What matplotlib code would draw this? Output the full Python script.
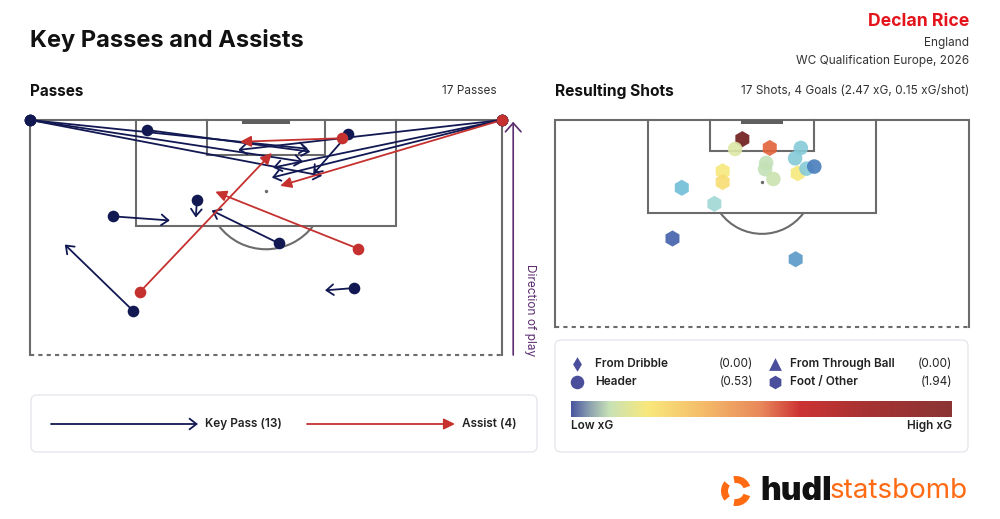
import matplotlib
matplotlib.use("Agg")
import matplotlib.pyplot as plt
from matplotlib.patches import FancyArrowPatch, FancyBboxPatch, Rectangle, Arc, Wedge
from matplotlib.colors import LinearSegmentedColormap, Normalize
import numpy as np

plt.rcParams['font.family'] = ['Inter', 'DejaVu Sans']

# ---------------- data ----------------
title = "Key Passes and Assists"
player = "Declan Rice"
team = "England"
competition = "WC Qualification Europe, 2026"

# StatsBomb coords: x = length (goal at 120), y = width (0..80)
pass_type = ["Key Pass"] * 13 + ["Assist"] * 4
pass_start_x = [120, 120, 120, 120, 120, 120, 118.3, 117.6, 106.4, 103.6, 99.0, 87.5, 91.4,
                116.9, 90.7, 120, 98.1]
pass_start_y = [0, 0, 0, 80, 80, 80, 19.8, 53.9, 28.3, 14.1, 42.2, 17.5, 54.9,
                52.9, 18.6, 80, 55.6]
pass_end_x = [115.1, 112.9, 110.5, 114.9, 111.9, 110.2, 114.6, 110.8, 103.4, 102.9, 104.6, 98.8, 91.0,
              116.3, 114.4, 108.8, 107.8]
pass_end_y = [47.1, 46.3, 49.5, 35.3, 41.2, 41.0, 47.5, 48.0, 28.1, 23.7, 30.8, 5.9, 50.0,
              35.6, 41.0, 42.4, 31.4]

shot_x = [116.3, 114.4, 114.6, 114.6, 112.6, 111.7, 110.5, 108.6, 110.1, 108.0, 109.7, 110.6, 111.0,
          106.9, 103.8, 97.1, 93.1]
shot_y = [36.2, 34.8, 41.5, 47.5, 46.4, 40.8, 40.6, 42.2, 32.4, 32.4, 46.9, 48.6, 50.1,
          24.5, 30.8, 22.7, 46.5]
shot_xg = [0.97, 0.11, 0.36, 0.05, 0.05, 0.08, 0.08, 0.09, 0.15, 0.17, 0.15, 0.05, 0.02,
           0.04, 0.06, 0.01, 0.03]
shot_body = ["Foot / Other", "Header", "Foot / Other", "Header", "Header", "Header", "Header", "Header",
             "Foot / Other", "Foot / Other", "Foot / Other", "Header", "Header",
             "Foot / Other", "Foot / Other", "Foot / Other", "Foot / Other"]
n_goals = 4
shot_categories = ["From Dribble", "From Through Ball", "Header", "Foot / Other"]

# ---------------- styles ----------------
NAVY = "#111852"
RED = "#C5312F"
LINE = "#6b6b6b"
PURPLE = "#5B2C6F"
MARK = "#4B4E9B"
TXT = "#222222"
SUB = "#333333"

cmap = LinearSegmentedColormap.from_list("xg", [
    (0.00, "#3D4B9C"), (0.03, "#4A82C0"), (0.057, "#72C2D8"), (0.071, "#86CBD8"),
    (0.086, "#A9DCD4"), (0.12, "#C8E2B0"), (0.157, "#DDE8A6"), (0.215, "#F9E97A"),
    (0.243, "#F8DC72"), (0.36, "#F3B45F"), (0.52, "#E2603A"), (0.62, "#CC3030"),
    (1.00, "#8A3030")])
cmap.set_over("#6E1A1A")
norm = Normalize(0, 0.7)

# legend colour bar gradient
cbar_cmap = LinearSegmentedColormap.from_list("xgbar", [
    (0.00, "#4A56A0"), (0.05, "#8FA5B0"), (0.10, "#C8E2B6"), (0.20, "#F9E87C"),
    (0.34, "#F5BE6A"), (0.50, "#E8875A"), (0.60, "#CD3434"), (0.77, "#A83232"),
    (1.00, "#8B3535")])

W, H = 1000, 519
fig = plt.figure(figsize=(W / 100, H / 100), dpi=100)
bg = fig.add_axes([0, 0, 1, 1])
bg.set_xlim(0, W)
bg.set_ylim(H, 0)
bg.axis('off')


def pax(x0, y0, x1, y1):
    return fig.add_axes([x0 / W, 1 - y1 / H, (x1 - x0) / W, (y1 - y0) / H])


def draw_pitch(ax, lw=1.5):
    ax.set_xlim(0, 80)
    ax.set_ylim(80, 120)
    ax.axis('off')
    kw = dict(color=LINE, lw=lw, zorder=1, clip_on=False, solid_joinstyle='miter')
    ax.plot([0, 0, 80, 80], [80, 120, 120, 80], **kw)
    ax.plot([0, 80], [80, 80], color=LINE, lw=lw, ls=(0, (2, 2)), zorder=1, clip_on=False)
    ax.plot([18, 18, 62, 62], [120, 102, 102, 120], **kw)
    ax.plot([30, 30, 50, 50], [120, 114, 114, 120], **kw)
    ax.add_patch(Rectangle((36, 119.3), 8, 0.7, color="#5f5f5f", lw=0, zorder=1))
    ax.add_patch(Arc((40, 108), 20, 20, theta1=216.87, theta2=323.13, color=LINE, lw=lw, zorder=1))
    ax.scatter([40], [108], s=6, color=LINE, zorder=1, lw=0)


# ---------------- header texts ----------------
bg.text(30, 40, title, fontsize=17, fontweight='bold', color="#111111", va='center', ha='left')
bg.text(969, 22, player, fontsize=12.7, fontweight='bold', color="#E3141B", va='center', ha='right')
bg.text(969, 43, team, fontsize=8.5, color=SUB, va='center', ha='right')
bg.text(969, 61, competition, fontsize=8.5, color=SUB, va='center', ha='right')

bg.text(30, 91, "Passes", fontsize=11, fontweight='bold', color="#111111", va='center', ha='left')
bg.text(497, 91, f"{len(pass_type)} Passes", fontsize=8.5, color=SUB, va='center', ha='right')
total_xg = sum(shot_xg)
bg.text(555, 91, "Resulting Shots", fontsize=11.2, fontweight='bold', color="#111111", va='center', ha='left')
bg.text(969, 91, f"{len(shot_xg)} Shots, {n_goals} Goals ({total_xg:.2f} xG, {total_xg / len(shot_xg):.2f} xG/shot)",
        fontsize=8.5, color=SUB, va='center', ha='right')

# ---------------- passes pitch ----------------
axp = pax(30, 120, 502, 355)
draw_pitch(axp, lw=1.5)

for t, sx, sy, ex, ey in zip(pass_type, pass_start_x, pass_start_y, pass_end_x, pass_end_y):
    if t == "Key Pass":
        style = "->,head_length=0.42,head_width=0.32"
        col = NAVY
        z = 3
    else:
        style = "-|>,head_length=0.55,head_width=0.27"
        col = RED
        z = 4
    axp.add_patch(FancyArrowPatch((sy, sx), (ey, ex), arrowstyle=style, mutation_scale=12,
                                  color=col, lw=1.3, shrinkA=0, shrinkB=0, zorder=z, clip_on=False))

kp_idx = [i for i, t in enumerate(pass_type) if t == "Key Pass"]
as_idx = [i for i, t in enumerate(pass_type) if t == "Assist"]
axp.scatter([pass_start_y[i] for i in kp_idx], [pass_start_x[i] for i in kp_idx], s=70, color=NAVY,
            lw=0, zorder=5, clip_on=False)
axp.scatter([pass_start_y[i] for i in as_idx], [pass_start_x[i] for i in as_idx], s=70, color=RED,
            lw=0, zorder=6, clip_on=False)

# direction of play
axp.add_patch(FancyArrowPatch((81.9, 80), (81.9, 119.7), arrowstyle="->,head_length=0.45,head_width=0.4",
                              mutation_scale=14, color=PURPLE, lw=1.2, shrinkA=0, shrinkB=0, clip_on=False))
axp.text(84.8, 87.6, "Direction of play", rotation=270, fontsize=8.5, color=PURPLE, ha='center', va='center',
         clip_on=False)

# ---------------- shots pitch ----------------
axs = pax(555, 120, 969, 327)
draw_pitch(axs, lw=1.5)
for body, mk, s in [("Foot / Other", "h", 135), ("Header", "o", 110)]:
    idx = [i for i, b in enumerate(shot_body) if b == body]
    axs.scatter([shot_y[i] for i in idx], [shot_x[i] for i in idx], c=[shot_xg[i] for i in idx],
                cmap=cmap, norm=norm, marker=mk, s=s, lw=0, alpha=0.9, zorder=3, clip_on=False)

# ---------------- legends ----------------
for (x0, y0, x1, y1) in [(31, 395, 537, 452), (555, 340, 968, 452)]:
    bg.add_patch(FancyBboxPatch((x0, y0), x1 - x0, y1 - y0, boxstyle="round,pad=0,rounding_size=6",
                                fc="white", ec="#E4E7EB", lw=1.0, zorder=0))

bg.add_patch(FancyArrowPatch((51, 424), (198, 424), arrowstyle="->,head_length=0.42,head_width=0.32",
                             mutation_scale=12, color=NAVY, lw=1.3, shrinkA=0, shrinkB=0))
bg.text(205, 424, f"Key Pass ({len(kp_idx)})", fontsize=8.5, fontweight='semibold', color=TXT, va='center')
bg.add_patch(FancyArrowPatch((307, 424), (455, 424), arrowstyle="-|>,head_length=0.55,head_width=0.27",
                             mutation_scale=12, color=RED, lw=1.3, shrinkA=0, shrinkB=0))
bg.text(462, 424, f"Assist ({len(as_idx)})", fontsize=8.5, fontweight='semibold', color=TXT, va='center')

cat_markers = {"From Dribble": ("d", 55), "From Through Ball": ("^", 85),
               "Header": ("o", 95), "Foot / Other": ("h", 95)}
cat_pos = {"From Dribble": (577, 364, 595, 753), "Header": (577, 382, 595, 753),
           "From Through Ball": (775, 364, 790, 952), "Foot / Other": (775, 382, 790, 952)}
for cat in shot_categories:
    mk, s = cat_markers[cat]
    mx, my, tx, vx = cat_pos[cat]
    val = sum(x for x, b in zip(shot_xg, shot_body) if b == cat)
    bg.scatter([mx], [my], marker=mk, s=s, color=MARK, lw=0)
    bg.text(tx, my, cat, fontsize=8.5, fontweight='semibold', color=TXT, va='center', ha='left')
    bg.text(vx, my, f"({val:.2f})", fontsize=8.5, color=TXT, va='center', ha='right')

grad = np.linspace(0, 1, 256).reshape(1, -1)
bg.imshow(grad, cmap=cbar_cmap, extent=(571, 952, 417, 401), aspect='auto', zorder=2)
bg.text(571, 426, "Low xG", fontsize=8.5, fontweight='semibold', color=TXT, va='center', ha='left')
bg.text(952, 426, "High xG", fontsize=8.5, fontweight='semibold', color=TXT, va='center', ha='right')

# ---------------- logo ----------------
ORANGE = "#FF6A13"
for t1, t2 in [(20, 100), (140, 220), (260, 340)]:
    bg.add_patch(Wedge((736, 491), 15, t1, t2, width=7, color=ORANGE, lw=0))
bg.text(832, 491, "hudl", fontsize=23, fontweight='black', color="#111111", va='center', ha='right')
bg.text(968, 491, "statsbomb", fontsize=20, color=ORANGE, va='center', ha='right')

bg.set_xlim(0, W)
bg.set_ylim(H, 0)
fig.savefig("out.png", dpi=100)
